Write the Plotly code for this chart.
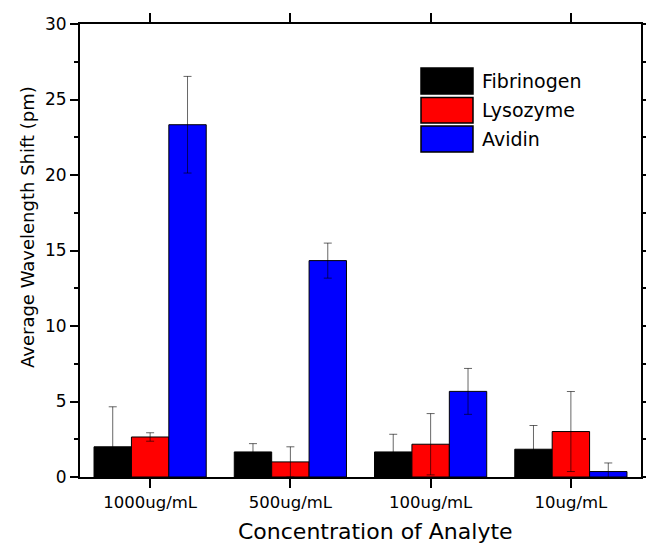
import plotly.graph_objects as go

# Concentrations on the x axis
concentrations = ["1000ug/mL", "500ug/mL", "100ug/mL", "10ug/mL"]

# Average wavelength shift (pm) and standard deviation per analyte
fibrinogen = [2.0, 1.66, 1.66, 1.84]
fibrinogen_err = [2.65, 0.55, 1.17, 1.57]
lysozyme = [2.65, 1.0, 2.17, 3.01]
lysozyme_err = [0.28, 1.0, 2.03, 2.65]
avidin = [23.33, 14.33, 5.67, 0.36]
avidin_err = [3.2, 1.16, 1.52, 0.57]

series_names = ["Fibrinogen", "Lysozyme", "Avidin"]
series_colors = ["#000000", "#ff0000", "#0000ff"]

W, H = 646, 544
L, R, T, B = 80, 5, 24, 67
FONT = "DejaVu Sans"

fig = go.Figure()
for name, vals, errs, col in zip(
    series_names,
    [fibrinogen, lysozyme, avidin],
    [fibrinogen_err, lysozyme_err, avidin_err],
    series_colors,
):
    fig.add_trace(go.Bar(
        x=concentrations, y=vals, name=name,
        marker=dict(color=col, line=dict(color="#000000", width=1)),
        error_y=dict(type="data", array=errs, visible=True,
                     color="rgba(0,0,0,0.6)", thickness=1, width=4),
        showlegend=False,
    ))

# pixel -> paper helpers for the legend block and titles
pw = W - L - R
ph = H - T - B
def px_x(x):
    return (x - L) / pw
def px_y(y):
    return (H - B - y) / ph

shapes = []
annotations = []
legend_rows = [(68, 94), (97.5, 123), (126, 152)]
for (y0, y1), name, col in zip(legend_rows, series_names, series_colors):
    shapes.append(dict(type="rect", xref="paper", yref="paper",
                       x0=px_x(421), x1=px_x(473), y0=px_y(y1), y1=px_y(y0),
                       fillcolor=col, line=dict(color="#000000", width=1.5)))
    annotations.append(dict(xref="paper", yref="paper", x=px_x(480),
                            y=px_y((y0 + y1) / 2), text=name, showarrow=False,
                            xanchor="left", yanchor="middle",
                            font=dict(family=FONT, size=19, color="#000000")))

annotations.append(dict(xref="paper", yref="paper", x=px_x(375), y=px_y(531),
                        text="Concentration of Analyte", showarrow=False,
                        xanchor="center", yanchor="middle",
                        font=dict(family=FONT, size=22, color="#000000")))
annotations.append(dict(xref="paper", yref="paper", x=px_x(28), y=px_y(227),
                        text="Average Wavelength Shift (pm)", showarrow=False,
                        textangle=-90, xanchor="center", yanchor="middle",
                        font=dict(family=FONT, size=18, color="#000000")))

fig.update_layout(
    width=W, height=H,
    margin=dict(l=L, r=R, t=T, b=B, autoexpand=False),
    paper_bgcolor="white", plot_bgcolor="white",
    barmode="group", bargap=0.2, bargroupgap=0,
    font=dict(family=FONT, size=16, color="#000000"),
    shapes=shapes, annotations=annotations,
    xaxis=dict(
        type="category", range=[-0.5, 3.5],
        showline=True, linecolor="#000000", linewidth=2, mirror="ticks",
        ticks="outside", ticklen=9, tickwidth=2, tickcolor="#000000",
        showgrid=False, zeroline=False,
        tickfont=dict(family=FONT, size=16.5),
    ),
    yaxis=dict(
        range=[0, 30], dtick=5, tick0=0,
        showline=True, linecolor="#000000", linewidth=2, mirror="ticks",
        ticks="outside", ticklen=8, tickwidth=2, tickcolor="#000000",
        minor=dict(dtick=2.5, ticks="outside", ticklen=4, tickwidth=2,
                   tickcolor="#000000", showgrid=False),
        showgrid=False, zeroline=False,
        tickfont=dict(family=FONT, size=17),
    ),
)

fig.write_html("out.html")
